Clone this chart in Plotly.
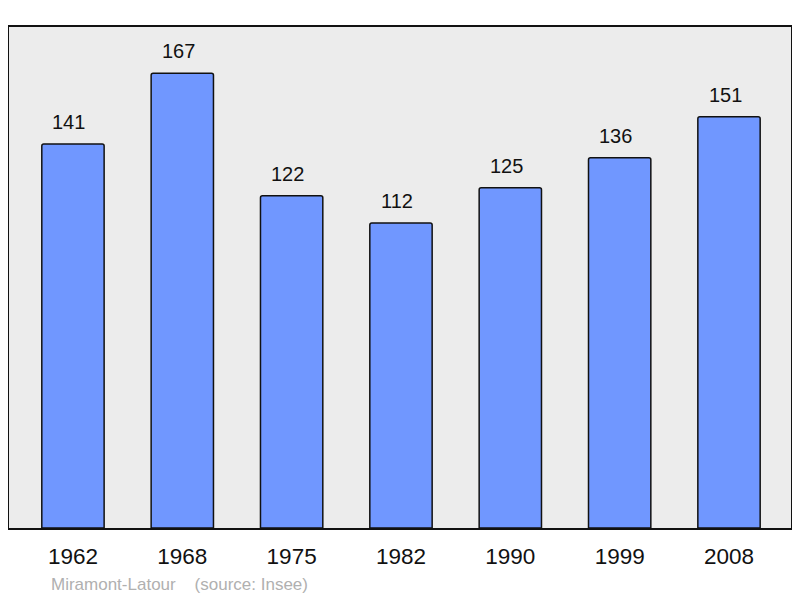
import plotly.graph_objects as go

years = ["1962", "1968", "1975", "1982", "1990", "1999", "2008"]
population = [141, 167, 122, 112, 125, 136, 151]
source_text = "Miramont-Latour&nbsp;&nbsp;&nbsp;&nbsp;(source: Insee)"

fig = go.Figure()
fig.add_trace(go.Bar(
    x=years, y=population,
    width=0.57,
    marker=dict(color="#7097ff", line=dict(color="#111111", width=1.5), cornerradius=2),
))

# value labels above each bar (x by category index)
for i, val in enumerate(population):
    fig.add_annotation(x=i, y=val, text=str(val), showarrow=False,
                       yshift=22, xshift=-4, font=dict(size=20, color="#111111"))

fig.add_annotation(xref="paper", yref="paper", x=0.051, y=-0.112,
                   xanchor="left", yanchor="middle",
                   text=source_text, showarrow=False,
                   font=dict(size=17, color="#b0b0b0"))

# page adds ~8px body margin, so size the figure a bit smaller
fig.update_layout(
    width=792, height=590,
    margin=dict(l=1, r=9, t=19, b=70),
    paper_bgcolor="white",
    plot_bgcolor="#ececec",
    font=dict(family="Liberation Sans, Arial, sans-serif"),
    showlegend=False,
)
fig.update_xaxes(type="category", range=[-0.585, 6.567], showgrid=False, showline=True,
                 linecolor="#111111", linewidth=2, mirror=True, ticks="",
                 ticklabelstandoff=7, tickfont=dict(size=22.5, color="#111111"))
fig.update_yaxes(range=[0, 184], showgrid=False, zeroline=False, showline=True,
                 linecolor="#111111", linewidth=2, mirror=True, showticklabels=False)

fig.write_html("out.html")
